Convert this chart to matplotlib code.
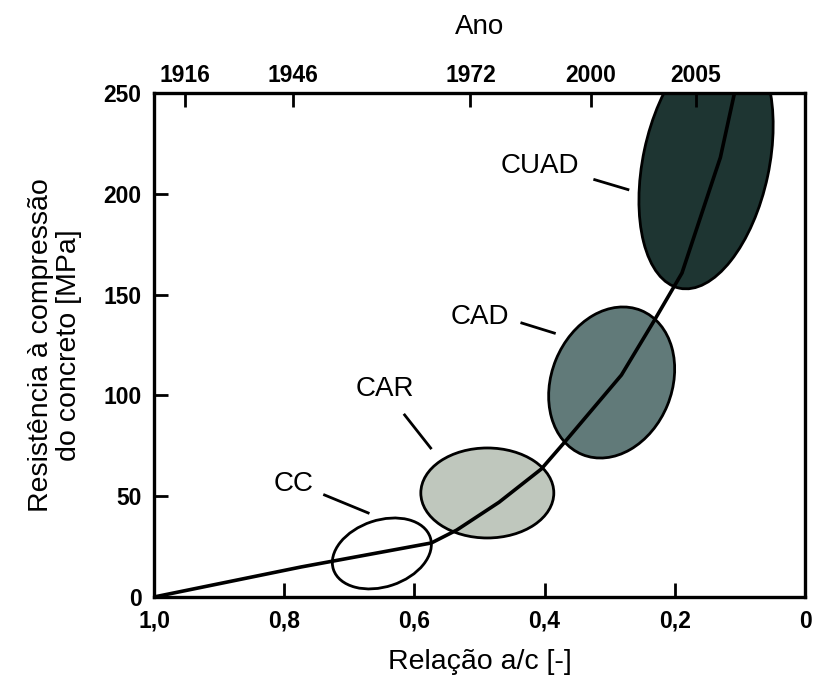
import matplotlib
matplotlib.use('Agg')
import matplotlib.pyplot as plt
from matplotlib.patches import Ellipse
from matplotlib import transforms

plt.rcParams['font.family'] = ['Liberation Sans', 'DejaVu Sans']

# curve: relacao a/c vs resistencia (MPa)
curve_wc = [1.0, 0.774, 0.574, 0.535, 0.470, 0.405, 0.369, 0.282, 0.232, 0.189, 0.138, 0.130, 0.109, 0.100]
curve_fc = [0.0, 14.9, 26.8, 33.2, 47.0, 63.5, 76.9, 110.1, 136.9, 160.7, 210.3, 218.0, 249.0, 256.0]

# concrete classes (ellipse centres in data units)
classes = ['CC', 'CAR', 'CAD', 'CUAD']
class_wc = [0.650, 0.488, 0.297, 0.152]
class_fc = [21.6, 51.6, 106.4, 215.3]
class_colors = ['#ffffff', '#bfc7bd', '#617a79', '#1e3532']
# label text position and leader line ends
label_wc = [0.785, 0.645, 0.500, 0.408]
label_fc = [56.1, 103.2, 138.9, 214.0]
leader_wc = [(0.738, 0.671), (0.615, 0.575), (0.435, 0.385), (0.323, 0.272)]
leader_fc = [(50.6, 41.7), (90.3, 73.9), (135.9, 130.9), (207.0, 202.1)]

# top axis: years
year_pos = [0.952, 0.786, 0.514, 0.329, 0.168]
year_labels = ['1916', '1946', '1972', '2000', '2005']

x_ticks = [1.0, 0.8, 0.6, 0.4, 0.2, 0.0]
x_ticklabels = ['1,0', '0,8', '0,6', '0,4', '0,2', '0']
y_ticks = [0, 50, 100, 150, 200, 250]

fig = plt.figure(figsize=(8.13, 6.88), dpi=100)
ax = fig.add_axes([154 / 813, 1 - 597 / 688, 651 / 813, 504 / 688])

# ellipse size in pixels (semi axes) and tilt
semi_a = [51, 66.5, 77.8, 128]
semi_b = [33.3, 45, 60.2, 63]
tilt = [18.4, 0, 67.8, 78]

for i, name in enumerate(classes):
    tr = fig.dpi_scale_trans + transforms.ScaledTranslation(class_wc[i], class_fc[i], ax.transData)
    e = Ellipse((0, 0), 2 * semi_a[i] / 100, 2 * semi_b[i] / 100, angle=tilt[i],
                transform=tr, facecolor=class_colors[i], edgecolor='black', lw=2.0, zorder=2)
    ax.add_patch(e)
    ax.text(label_wc[i], label_fc[i], name, fontsize=20, ha='center', va='center', zorder=4)
    ax.plot(leader_wc[i], leader_fc[i], color='black', lw=2.0, zorder=4)

ax.plot(curve_wc, curve_fc, color='black', lw=2.6, zorder=3, solid_capstyle='butt')

ax.set_xlim(1.0, 0.0)
ax.set_ylim(0, 250)
ax.set_xticks(x_ticks)
ax.set_xticklabels(x_ticklabels)
ax.set_yticks(y_ticks)
ax.tick_params(direction='in', length=10, width=2, labelsize=16.5)
ax.tick_params(axis='x', pad=9)
ax.tick_params(axis='y', pad=9)
for lab in ax.get_xticklabels() + ax.get_yticklabels():
    lab.set_fontweight('bold')
for sp in ax.spines.values():
    sp.set_linewidth(2.4)

ax2 = ax.twiny()
ax2.set_xlim(1.0, 0.0)
ax2.set_xticks(year_pos)
ax2.set_xticklabels(year_labels, fontweight='bold')
ax2.tick_params(direction='in', length=10, width=2, labelsize=16.5, pad=4)
ax2.set_xlabel('Ano', fontsize=20, labelpad=22)

ax.set_xlabel('Relação a/c [-]', fontsize=20.5, labelpad=12)
fig.text(55 / 813, 1 - 345 / 688, 'Resistência à compressão\ndo concreto [MPa]',
         rotation=90, ha='center', va='center', fontsize=20.5, linespacing=1.15)

fig.savefig('out.png', dpi=100)
